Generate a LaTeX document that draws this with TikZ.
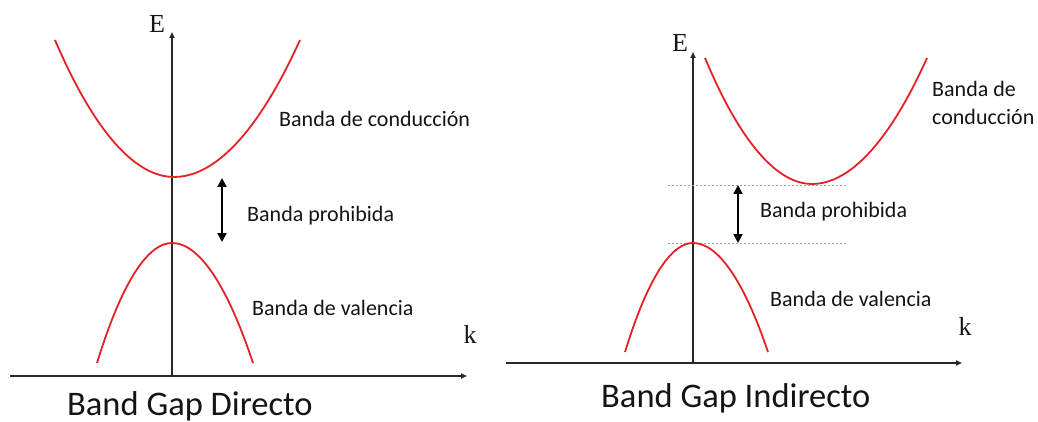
\documentclass[tikz,border=0pt]{standalone}
\usepackage{fontspec}
\setmainfont{Carlito}
\newfontfamily\serifE{Liberation Serif}
\usetikzlibrary{arrows.meta}
\definecolor{bandred}{RGB}{228,34,38}
\definecolor{axisgray}{RGB}{40,40,40}
\definecolor{labelgray}{RGB}{20,20,20}
\definecolor{levelgray}{RGB}{160,160,160}
\begin{document}
\begin{tikzpicture}[x=1pt,y=-1pt,
  axis/.style={draw=axisgray, line width=1.6pt, -{Triangle[length=6pt,width=5pt]}},
  band/.style={draw=bandred, line width=1.8pt},
  gaparrow/.style={draw=black, line width=2pt, {Triangle[length=9pt,width=9pt]}-{Triangle[length=9pt,width=9pt]}},
  lbl/.style={inner sep=0pt, anchor=base west, text=labelgray, font=\fontsize{22}{27}\selectfont},
  titlelbl/.style={inner sep=0pt, anchor=base west, text=labelgray, font=\fontsize{34.5}{40}\selectfont},
  axlbl/.style={inner sep=0pt, anchor=base, text=labelgray, font=\serifE\fontsize{26}{26}\selectfont},
  level/.style={draw=levelgray, line width=0.9pt, dash pattern=on 2pt off 2pt}
]
\useasboundingbox (0,0) rectangle (1038,422);

% ---------- Left: direct gap ----------
\coordinate (Lxs) at (10,376);
\coordinate (Lxe) at (467,376);
\coordinate (Lys) at (172,376);
\coordinate (Lye) at (172,32);
\draw[axis] (Lxs) -- (Lxe);
\draw[axis] (Lys) -- (Lye);
\node[axlbl] (LE) at (157,33) {E};
\node[axlbl] (Lk) at (470,343) {k};

\coordinate (Lc1) at (55,40);
\coordinate (Lcm) at (174,177);
\coordinate (Lc2) at (300,40);
\draw[band] (Lc1) parabola bend (Lcm) (Lc2);
\coordinate (Lv1) at (97,363);
\coordinate (Lvm) at (172,243);
\coordinate (Lv2) at (253,363);
\draw[band] (Lv1) parabola bend (Lvm) (Lv2);

\coordinate (Lgt) at (222,178);
\coordinate (Lgb) at (222,242);
\draw[gaparrow] (Lgb) -- (Lgt);

\node[lbl] (Lcond) at (279,127) {Banda de conducción};
\node[lbl] (Lproh) at (247,222) {Banda prohibida};
\node[lbl] (Lval) at (252,315) {Banda de valencia};
\node[titlelbl] (Ltitle) at (67,415) {Band Gap Directo};

% ---------- Right: indirect gap ----------
\coordinate (Rxs) at (506,363);
\coordinate (Rxe) at (962,363);
\coordinate (Rys) at (693,363);
\coordinate (Rye) at (693,52);
\draw[axis] (Rxs) -- (Rxe);
\draw[axis] (Rys) -- (Rye);
\node[axlbl] (RE) at (680,52) {E};
\node[axlbl] (Rk) at (965,335) {k};

\coordinate (Rl1a) at (668,185);
\coordinate (Rl1b) at (846,185);
\coordinate (Rl2a) at (668,243);
\coordinate (Rl2b) at (846,243);
\draw[level] (Rl1a) -- (Rl1b);
\draw[level] (Rl2a) -- (Rl2b);

\coordinate (Rc1) at (705,58);
\coordinate (Rcm) at (812,184);
\coordinate (Rc2) at (927,58);
\draw[band] (Rc1) parabola bend (Rcm) (Rc2);
\coordinate (Rv1) at (625,352);
\coordinate (Rvm) at (693,243);
\coordinate (Rv2) at (768,352);
\draw[band] (Rv1) parabola bend (Rvm) (Rv2);

\coordinate (Rgt) at (738,185);
\coordinate (Rgb) at (738,243);
\draw[gaparrow] (Rgb) -- (Rgt);

\node[lbl] (Rcond1) at (932,97) {Banda de};
\node[lbl] (Rcond2) at (932,125) {conducción};
\node[lbl] (Rproh) at (760,218) {Banda prohibida};
\node[lbl] (Rval) at (770,306) {Banda de valencia};
\node[titlelbl] (Rtitle) at (601,407) {Band Gap Indirecto};
\end{tikzpicture}
\end{document}
